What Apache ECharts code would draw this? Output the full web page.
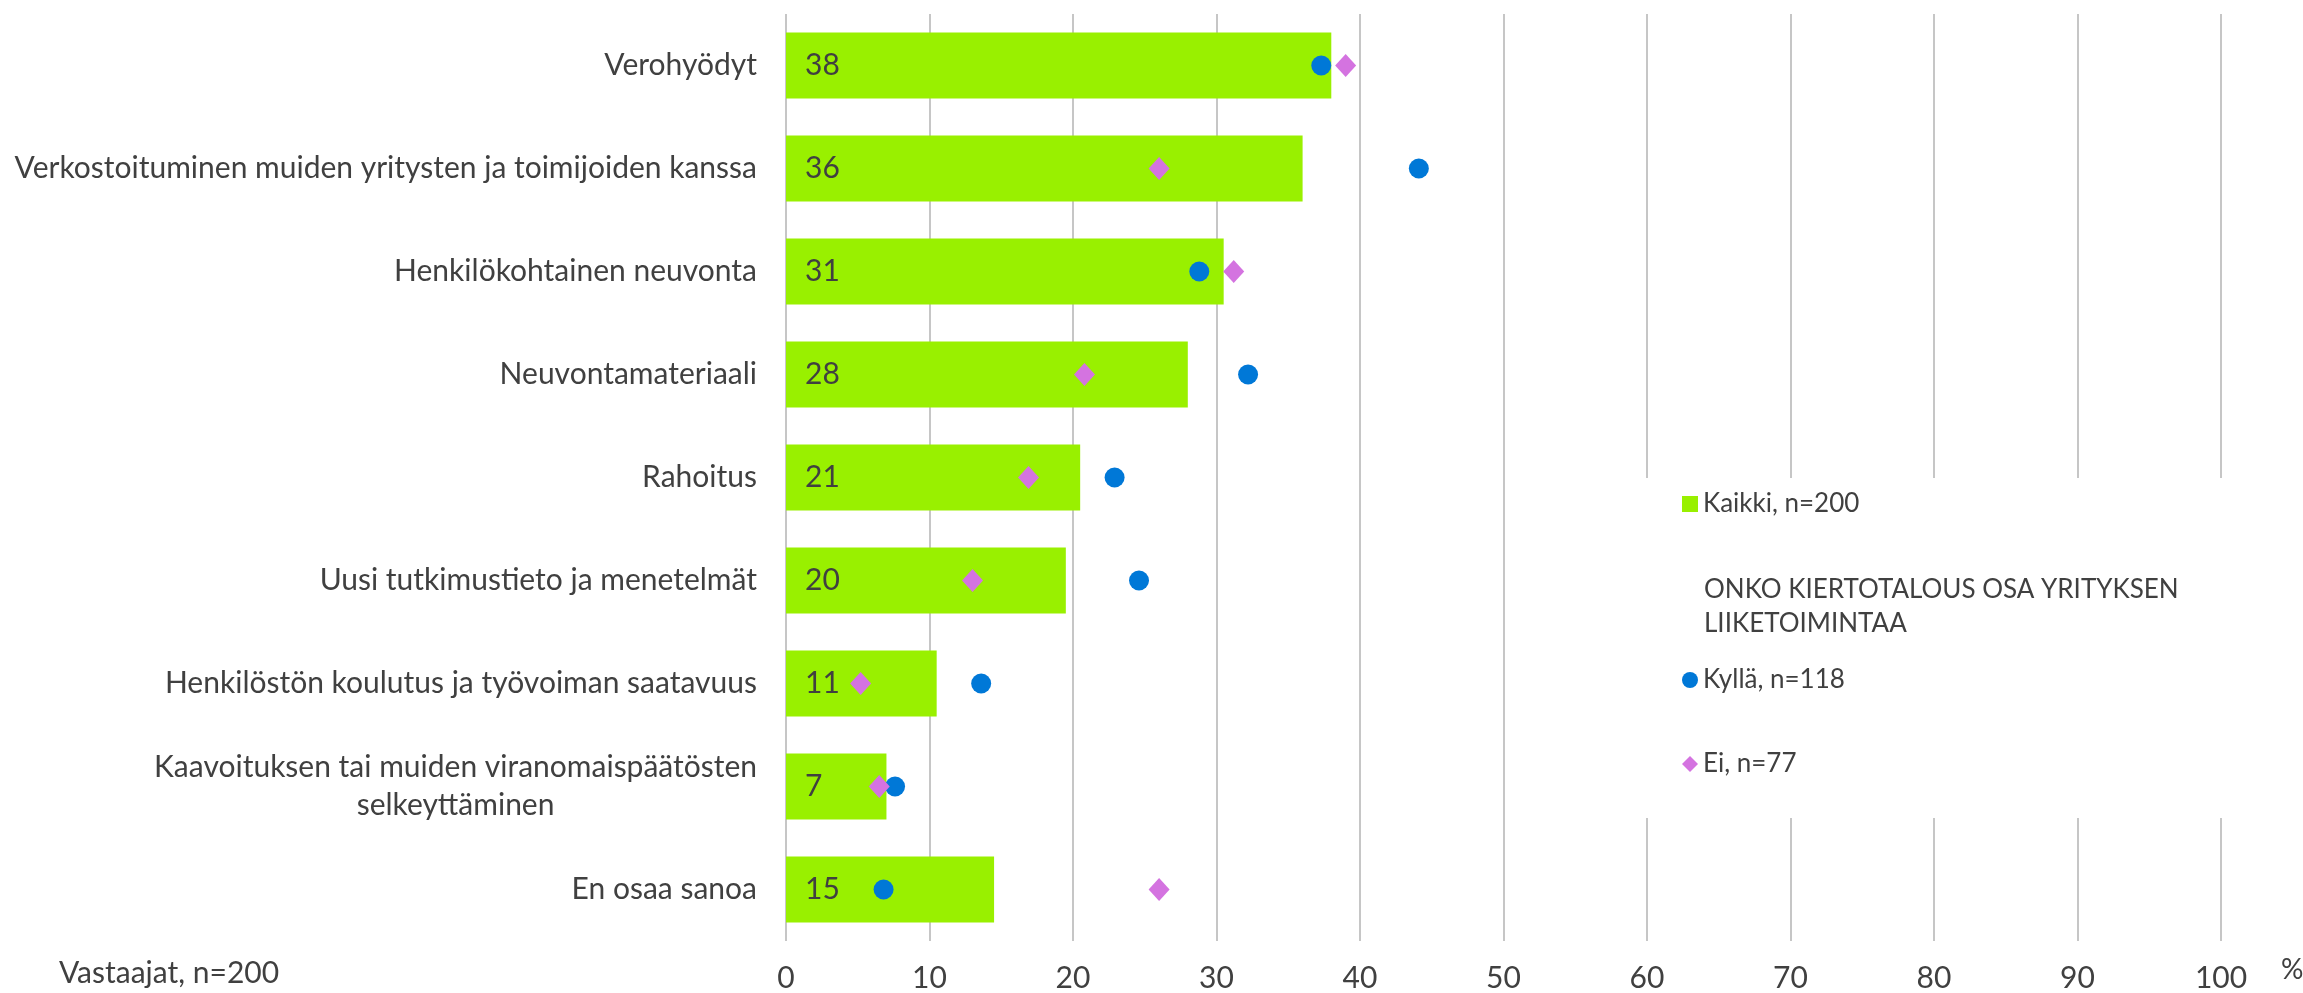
<!DOCTYPE html>
<html>
<head>
<meta charset="utf-8">
<script src="https://cdn.jsdelivr.net/npm/echarts@6/dist/echarts.min.js"></script>
<style>
  html, body { margin: 0; padding: 0; background: #fff; }
  #main { width: 2303px; height: 993px; }
</style>
</head>
<body>
<div id="main"></div>
<script>
// data
var categories = [
  "Verohyödyt",
  "Verkostoituminen muiden yritysten ja toimijoiden kanssa",
  "Henkilökohtainen neuvonta",
  "Neuvontamateriaali",
  "Rahoitus",
  "Uusi tutkimustieto ja menetelmät",
  "Henkilöstön koulutus ja työvoiman saatavuus",
  "Kaavoituksen tai muiden viranomaispäätösten\nselkeyttäminen",
  "En osaa sanoa"
];
var kaikki = [38, 36, 30.5, 28, 20.5, 19.5, 10.5, 7, 14.5];
var kylla  = [37.3, 44.1, 28.8, 32.2, 22.9, 24.6, 13.6, 7.6, 6.8];
var ei     = [39.0, 26.0, 31.2, 20.8, 16.9, 13.0, 5.2, 6.5, 26.0];
var xTicks = [0, 100, 10];   // min, max, step

var FONT = "Lato";
var TXT = "#404040";

function pairs(vals){
  var out = [];
  for (var i = 0; i < vals.length; i++) out.push([vals[i], categories[i]]);
  return out;
}

var chart = echarts.init(document.getElementById("main"));
var option = {
  backgroundColor: "#fff",
  animation: false,
  textStyle: { fontFamily: FONT, color: TXT },
  grid: { left: 786, right: 82, top: 14, bottom: 52 },
  xAxis: {
    type: "value",
    min: xTicks[0], max: xTicks[1], interval: xTicks[2],
    axisLine: { show: false },
    axisTick: { show: false },
    splitLine: { show: true, lineStyle: { color: "#C6C6C6", width: 2 } },
    axisLabel: { fontSize: 30, color: TXT, fontFamily: FONT, margin: 22 }
  },
  yAxis: {
    type: "category",
    inverse: true,
    data: categories,
    axisLine: { show: false },
    axisTick: { show: false },
    axisLabel: {
      margin: 29,
      formatter: function(v){ return "{a|" + v + "}"; },
      rich: { a: { fontSize: 30, color: TXT, fontFamily: FONT, align: "center", lineHeight: 38 } }
    }
  },
  legend: [{
    data: ["Kaikki, n=200"],
    left: 1682, top: 489, padding: 0,
    itemWidth: 16, itemHeight: 16, itemGap: 6,
    icon: "rect",
    textStyle: { fontSize: 26, color: TXT, fontFamily: FONT, lineHeight: 30 }
  }, {
    data: [{ name: "Kyllä, n=118", icon: "circle" }, { name: "Ei, n=77", icon: "diamond" }],
    orient: "vertical",
    left: 1682, top: 665, padding: 0,
    itemWidth: 16, itemHeight: 16, itemGap: 54,
    textStyle: { fontSize: 26, color: TXT, fontFamily: FONT, lineHeight: 30 }
  }],
  graphic: [
    { type: "rect", z: 3, shape: { x: 1640, y: 478, width: 595, height: 340 }, style: { fill: "#fff" } },
    { type: "text", z: 5, left: 1704, top: 573,
      style: { text: "ONKO KIERTOTALOUS OSA YRITYKSEN\nLIIKETOIMINTAA", font: "26px " + FONT, fill: TXT, lineHeight: 34 } },
    { type: "text", z: 5, left: 59, top: 958,
      style: { text: "Vastaajat, n=200", font: "30px " + FONT, fill: TXT } },
    { type: "text", z: 5, left: 2281, top: 956,
      style: { text: "%", font: "28px " + FONT, fill: TXT } }
  ],
  series: [{
    name: "Kaikki, n=200",
    type: "bar",
    data: kaikki,
    barCategoryGap: "36%",
    itemStyle: { color: "#99F000" },
    label: {
      show: true, position: "insideLeft", distance: 19,
      fontSize: 30, color: TXT, fontFamily: FONT,
      formatter: function(p){ return Math.round(p.value); }
    },
    z: 2
  }, {
    name: "Kyllä, n=118",
    type: "scatter",
    data: pairs(kylla),
    symbol: "circle", symbolSize: 20,
    itemStyle: { color: "#0078D7", opacity: 1 },
    z: 4
  }, {
    name: "Ei, n=77",
    type: "scatter",
    data: pairs(ei),
    symbol: "diamond", symbolSize: [21, 23],
    itemStyle: { color: "#D473E0", opacity: 1 },
    z: 5
  }]
};
chart.setOption(option);
</script>
</body>
</html>
